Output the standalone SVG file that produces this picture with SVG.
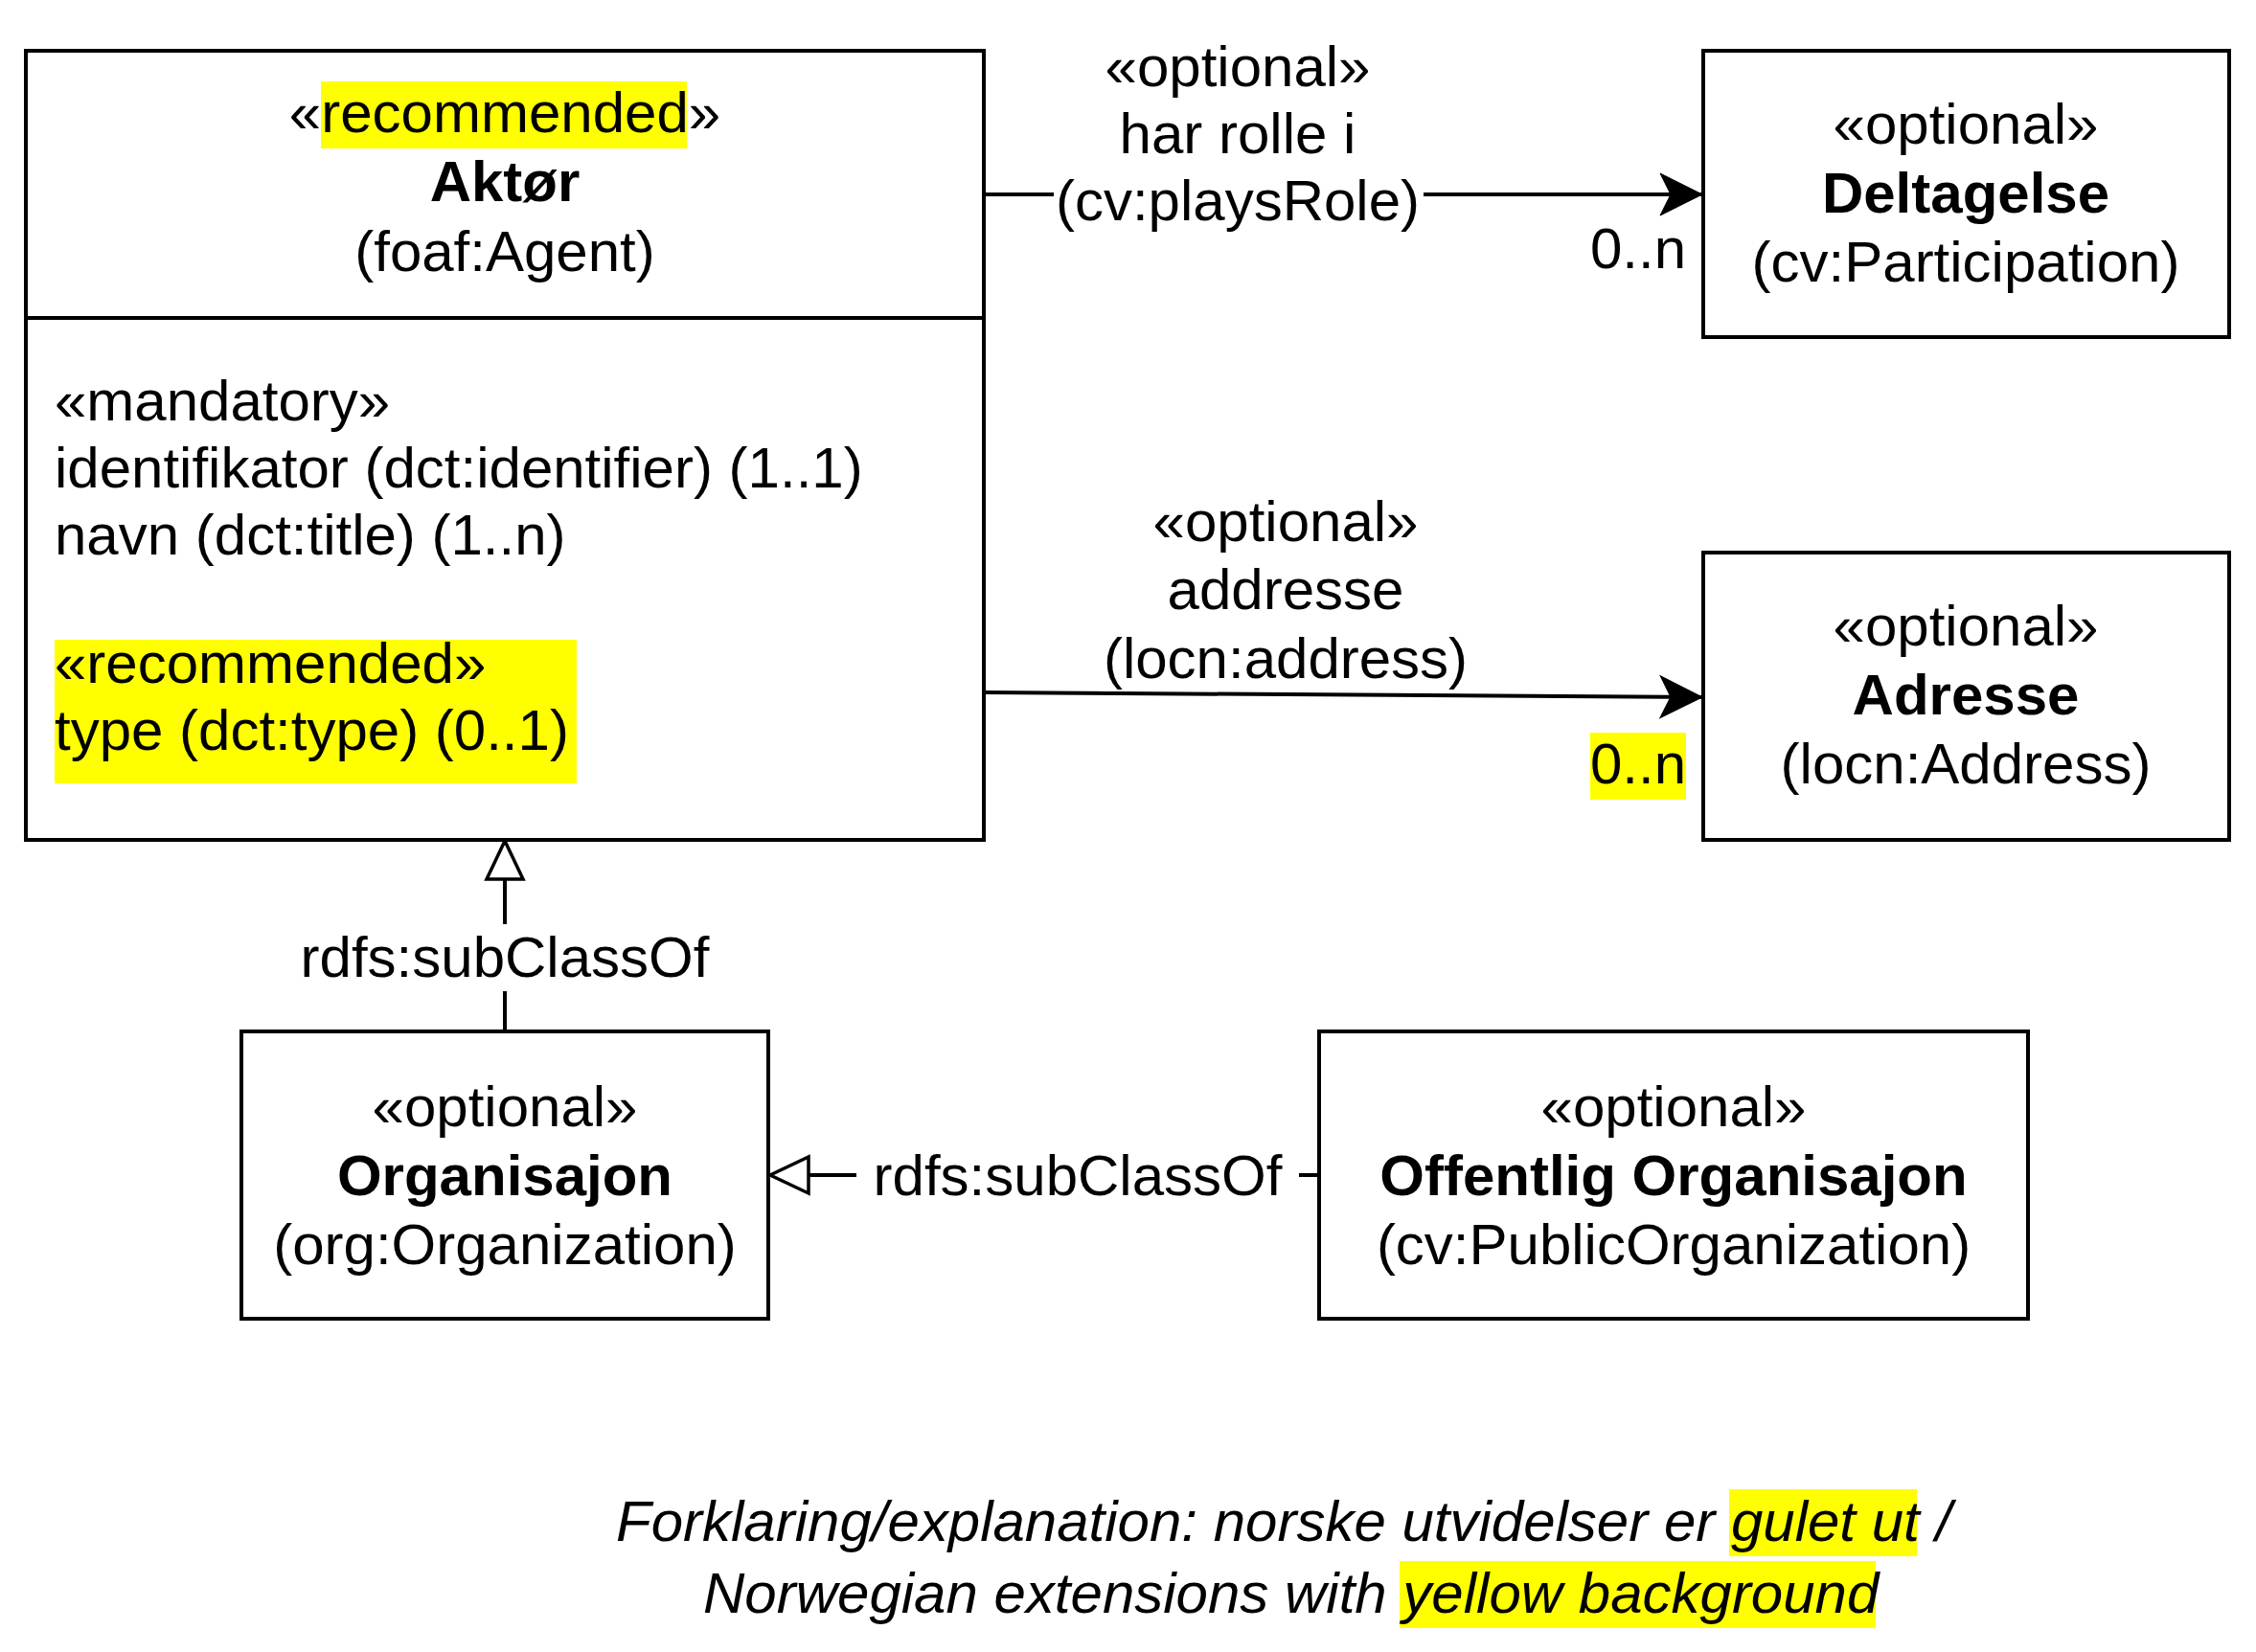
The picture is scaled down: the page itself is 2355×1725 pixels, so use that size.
<svg xmlns="http://www.w3.org/2000/svg" width="2355" height="1725" viewBox="0 0 2355 1725">
<style>
.t{font-family:"Liberation Sans",Arial,Helvetica,sans-serif;font-size:60px;fill:#000}
.b{font-weight:bold}
.c{text-anchor:middle}
.e{text-anchor:end}
.i{font-style:italic}
.box{fill:#fff;stroke:#000;stroke-width:4}
.edge{fill:none;stroke:#000;stroke-width:4}
.hl{fill:#ffff00}
.lbg{fill:#fff}
</style>
<defs>
<marker id="classic" markerUnits="userSpaceOnUse" markerWidth="46" markerHeight="46" viewBox="0 0 46 46" refX="44" refY="22" orient="auto" overflow="visible">
<path d="M0,0 L44,22 L0,44 L11,22 Z" fill="#000" stroke="#000" stroke-width="1"/>
</marker>
<marker id="gen" markerUnits="userSpaceOnUse" markerWidth="44" markerHeight="42" viewBox="0 0 44 42" refX="42" refY="20" orient="auto" overflow="visible">
<path d="M2,1 L42,20 L2,39 Z" fill="#fff" stroke="#000" stroke-width="3.5"/>
</marker>
</defs>
<rect width="2355" height="1725" fill="#fff"/>

<g id="connectors">
<path class="edge" d="M1027,203 L1777,203" marker-end="url(#classic)"/>
<path class="edge" d="M1027,723 L1777,728" marker-end="url(#classic)"/>
<path class="edge" d="M527,1077 L527,878" marker-end="url(#gen)"/>
<path class="edge" d="M1377,1227 L804,1227" marker-end="url(#gen)"/>
<g id="label-playsRole">
<rect class="lbg" x="1100" y="40" width="386" height="215"/>
<text class="t c" x="1292" y="90">«optional»</text>
<text class="t c" x="1292" y="160">har rolle i</text>
<text class="t c" x="1292" y="230">(cv:playsRole)</text>
<text class="t e" x="1760" y="280">0..n</text>
</g>
<g id="label-address">
<rect class="lbg" x="1151" y="515" width="385" height="207"/>
<text class="t c" x="1342" y="565">«optional»</text>
<text class="t c" x="1342" y="636">addresse</text>
<text class="t c" x="1342" y="708">(locn:address)</text>
<rect class="hl" x="1660" y="765" width="100" height="70"/>
<text class="t e" x="1760" y="818">0..n</text>
</g>
<g id="label-sub1">
<rect class="lbg" x="312" y="965" width="430" height="70"/>
<text class="t c" x="527" y="1020">rdfs:subClassOf</text>
</g>
<g id="label-sub2">
<rect class="lbg" x="894" y="1192" width="462" height="70"/>
<text class="t c" x="1125" y="1248">rdfs:subClassOf</text>
</g>
</g>

<g id="node-aktor">
<rect class="box" x="27" y="53" width="1000" height="824"/>
<line x1="27" y1="332" x2="1027" y2="332" stroke="#000" stroke-width="4"/>
<rect class="hl" x="335" y="85" width="382" height="70"/>
<text class="t c" x="527" y="138">«recommended»</text>
<text class="t c b" x="527" y="210">Aktør</text>
<text class="t c" x="527" y="283">(foaf:Agent)</text>
<text class="t" x="57" y="439">«mandatory»</text>
<text class="t" x="57" y="509">identifikator (dct:identifier) (1..1)</text>
<text class="t" x="57" y="579">navn (dct:title) (1..n)</text>
<rect class="hl" x="57" y="668" width="545" height="150"/>
<text class="t" x="57" y="713">«recommended»</text>
<text class="t" x="57" y="783">type (dct:type) (0..1)</text>
</g>

<g id="node-deltagelse">
<rect class="box" x="1778" y="53" width="549" height="299"/>
<text class="t c" x="2052" y="150">«optional»</text>
<text class="t c b" x="2052" y="222">Deltagelse</text>
<text class="t c" x="2052" y="294">(cv:Participation)</text>
</g>

<g id="node-adresse">
<rect class="box" x="1778" y="577" width="549" height="300"/>
<text class="t c" x="2052" y="674">«optional»</text>
<text class="t c b" x="2052" y="746">Adresse</text>
<text class="t c" x="2052" y="818">(locn:Address)</text>
</g>

<g id="node-organisajon">
<rect class="box" x="252" y="1077" width="550" height="300"/>
<text class="t c" x="527" y="1176">«optional»</text>
<text class="t c b" x="527" y="1248">Organisajon</text>
<text class="t c" x="527" y="1320">(org:Organization)</text>
</g>

<g id="node-offentlig">
<rect class="box" x="1377" y="1077" width="740" height="300"/>
<text class="t c" x="1747" y="1176">«optional»</text>
<text class="t c b" x="1747" y="1248">Offentlig Organisajon</text>
<text class="t c" x="1747" y="1320">(cv:PublicOrganization)</text>
</g>

<g id="legend">
<rect class="hl" x="1805" y="1555" width="196" height="70"/>
<rect class="hl" x="1461" y="1630" width="497" height="70"/>
<text class="t i" x="643" y="1609">Forklaring/explanation: norske utvidelser er gulet ut /</text>
<text class="t i" x="734" y="1684">Norwegian extensions with yellow background</text>
</g>
</svg>
